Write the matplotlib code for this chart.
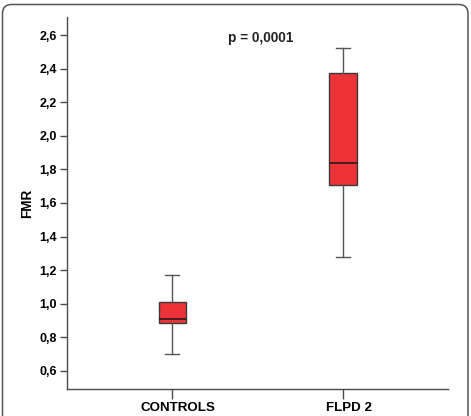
import matplotlib
matplotlib.use("Agg")
import matplotlib.pyplot as plt
from matplotlib.patches import FancyBboxPatch
from matplotlib.transforms import IdentityTransform, ScaledTranslation
from matplotlib.ticker import FuncFormatter

plt.rcParams['font.family'] = ['Liberation Sans', 'DejaVu Sans']
plt.rcParams['font.weight'] = 'bold'

# data
groups = ['CONTROLS', 'FLPD 2']
whisker_low = [0.70, 1.28]
q1 = [0.885, 1.707]
median = [0.906, 1.839]
q3 = [1.008, 2.377]
whisker_high = [1.171, 2.526]
p_label = 'p = 0,0001'
yticks = [0.6, 0.8, 1.0, 1.2, 1.4, 1.6, 1.8, 2.0, 2.2, 2.4, 2.6]

stats = []
for i, name in enumerate(groups):
    stats.append({'label': name, 'whislo': whisker_low[i], 'q1': q1[i],
                  'med': median[i], 'q3': q3[i], 'whishi': whisker_high[i],
                  'fliers': []})

fig = plt.figure(figsize=(4.71, 4.16), dpi=100)
ax = fig.add_axes([0.1429, 0.0642, 0.8083, 0.8949])

axis_col = '#4a4a4a'
ax.bxp(stats, positions=range(len(groups)), widths=0.16, capwidths=0.08,
       patch_artist=True, showfliers=False,
       boxprops=dict(facecolor='#ec3338', edgecolor='#3a3a3a', linewidth=1.0),
       medianprops=dict(color='#2a1a1a', linewidth=1.2),
       whiskerprops=dict(color='#555555', linewidth=1.0),
       capprops=dict(color='#555555', linewidth=1.0))

ax.set_xlim(-0.615, 1.615)
ax.set_ylim(0.489, 2.709)
ax.set_yticks(yticks)
ax.yaxis.set_major_formatter(FuncFormatter(lambda v, _: f'{v:.1f}'.replace('.', ',')))
ax.set_xticks(range(len(groups)))
ax.set_xticklabels(groups, fontsize=9.6, fontweight='bold')

for s in ['top', 'right']:
    ax.spines[s].set_visible(False)
for s in ['left', 'bottom']:
    ax.spines[s].set_color(axis_col)
    ax.spines[s].set_linewidth(1.0)

ax.tick_params(axis='y', direction='out', length=5, width=1, color=axis_col,
               labelsize=9, pad=2.5)
ax.tick_params(axis='x', direction='out', length=7, width=1, color=axis_col,
               pad=2)
for lab in ax.get_yticklabels():
    lab.set_fontweight('bold')
# category labels sit a little right of their ticks in the original
shift = ScaledTranslation(0.06, 0, fig.dpi_scale_trans)
for lab in ax.get_xticklabels():
    lab.set_transform(lab.get_transform() + shift)

ax.set_ylabel('FMR', fontsize=9.8, fontweight='bold', labelpad=4)

ax.text(0.515, 2.582, p_label, ha='center', va='center', fontsize=9.8,
        fontweight='bold', color='#222222')

# rounded frame around the whole figure
frame = FancyBboxPatch((2.5, -20), 465.5, 431.5,
                       boxstyle='round,pad=0,rounding_size=9',
                       transform=IdentityTransform(), facecolor='none',
                       edgecolor='#555555', linewidth=1.1)
fig.add_artist(frame)

fig.savefig('out.png', dpi=100)
